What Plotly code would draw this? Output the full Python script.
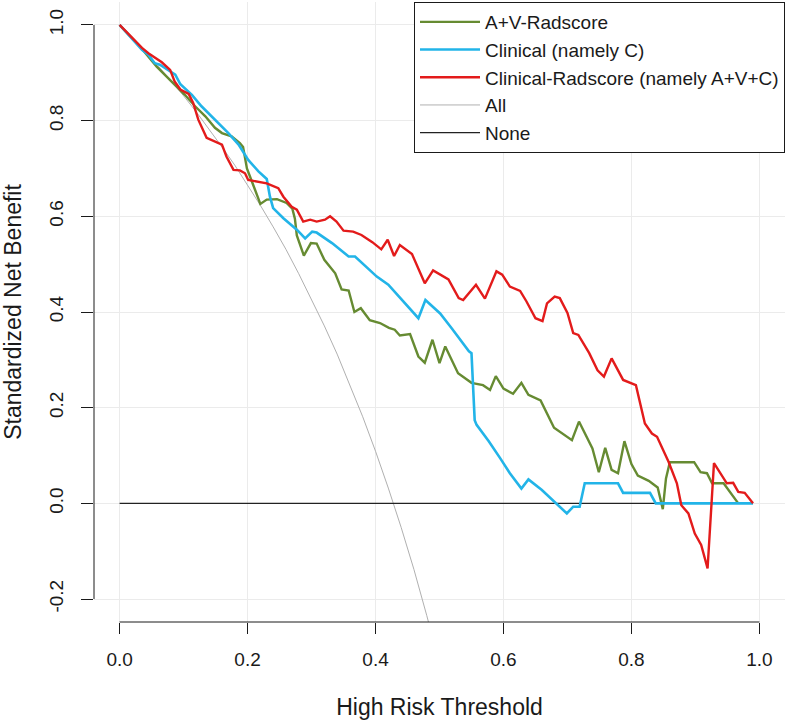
import plotly.graph_objects as go

# decision curve values (threshold, standardized net benefit)
av_thr = [0.00, 0.035, 0.058, 0.071, 0.087, 0.102, 0.118, 0.134, 0.149, 0.160, 0.175, 0.188,
          0.193, 0.199, 0.209, 0.220, 0.230, 0.246, 0.261, 0.270, 0.274, 0.277, 0.288, 0.299,
          0.308, 0.320, 0.337, 0.347, 0.358, 0.367, 0.377, 0.391, 0.407, 0.421, 0.430, 0.438,
          0.454, 0.467, 0.477, 0.489, 0.500, 0.509, 0.529, 0.550, 0.568, 0.579, 0.588, 0.600,
          0.615, 0.628, 0.639, 0.658, 0.679, 0.707, 0.718, 0.739, 0.749, 0.759, 0.769, 0.779,
          0.789, 0.800, 0.810, 0.827, 0.841, 0.849, 0.854, 0.860, 0.898, 0.908, 0.918, 0.926,
          0.944, 0.967]
av_nb = [1.000, 0.950, 0.913, 0.896, 0.875, 0.854, 0.830, 0.809, 0.785, 0.774, 0.767, 0.753,
         0.745, 0.700, 0.665, 0.626, 0.635, 0.636, 0.628, 0.616, 0.595, 0.560, 0.518, 0.544,
         0.543, 0.509, 0.481, 0.447, 0.445, 0.400, 0.408, 0.383, 0.377, 0.367, 0.363, 0.351,
         0.354, 0.307, 0.294, 0.342, 0.293, 0.328, 0.272, 0.252, 0.247, 0.237, 0.266, 0.240,
         0.229, 0.252, 0.227, 0.215, 0.158, 0.132, 0.171, 0.115, 0.065, 0.116, 0.070, 0.063,
         0.130, 0.082, 0.058, 0.047, 0.033, -0.012, 0.052, 0.086, 0.086, 0.065, 0.063, 0.042,
         0.042, 0.000]

clin_thr = [0.00, 0.035, 0.045, 0.055, 0.063, 0.076, 0.087, 0.095, 0.113, 0.128, 0.149, 0.170,
            0.186, 0.201, 0.217, 0.227, 0.230, 0.235, 0.240, 0.256, 0.277, 0.290, 0.301, 0.308,
            0.332, 0.345, 0.358, 0.368, 0.402, 0.420, 0.467, 0.478, 0.501, 0.519, 0.546, 0.550,
            0.555, 0.558, 0.577, 0.595, 0.610, 0.628, 0.639, 0.660, 0.683, 0.699, 0.709, 0.719,
            0.727, 0.779, 0.787, 0.829, 0.838, 0.990]
clin_nb = [1.000, 0.948, 0.938, 0.920, 0.917, 0.906, 0.896, 0.876, 0.854, 0.830, 0.802, 0.774,
           0.750, 0.718, 0.694, 0.683, 0.678, 0.641, 0.617, 0.596, 0.572, 0.554, 0.568, 0.566,
           0.544, 0.530, 0.516, 0.516, 0.474, 0.457, 0.387, 0.425, 0.397, 0.366, 0.318, 0.314,
           0.174, 0.164, 0.130, 0.094, 0.063, 0.031, 0.050, 0.028, 0.000, -0.021, -0.007, -0.007,
           0.042, 0.042, 0.022, 0.022, 0.000, 0.000]

comb_thr = [0.00, 0.035, 0.045, 0.066, 0.079, 0.086, 0.095, 0.108, 0.115, 0.123, 0.136, 0.149,
            0.160, 0.167, 0.178, 0.188, 0.196, 0.201, 0.230, 0.248, 0.256, 0.269, 0.277, 0.287,
            0.298, 0.308, 0.321, 0.329, 0.339, 0.350, 0.365, 0.378, 0.395, 0.409, 0.419, 0.429,
            0.438, 0.457, 0.477, 0.490, 0.514, 0.530, 0.537, 0.557, 0.571, 0.589, 0.598, 0.610,
            0.626, 0.636, 0.650, 0.661, 0.668, 0.680, 0.688, 0.700, 0.709, 0.717, 0.734, 0.747,
            0.757, 0.769, 0.787, 0.807, 0.821, 0.832, 0.840, 0.858, 0.871, 0.878, 0.889, 0.899,
            0.909, 0.919, 0.923, 0.925, 0.929, 0.949, 0.959, 0.967, 0.977, 0.990]
comb_nb = [1.000, 0.952, 0.941, 0.922, 0.906, 0.882, 0.865, 0.856, 0.837, 0.802, 0.764, 0.757,
           0.750, 0.725, 0.697, 0.696, 0.690, 0.676, 0.669, 0.659, 0.641, 0.620, 0.614, 0.589,
           0.593, 0.589, 0.593, 0.600, 0.589, 0.570, 0.568, 0.561, 0.546, 0.531, 0.551, 0.517,
           0.540, 0.521, 0.460, 0.487, 0.468, 0.429, 0.425, 0.457, 0.428, 0.485, 0.478, 0.453,
           0.444, 0.422, 0.387, 0.381, 0.418, 0.432, 0.429, 0.398, 0.356, 0.352, 0.314, 0.278,
           0.265, 0.303, 0.258, 0.247, 0.167, 0.146, 0.139, 0.087, 0.042, -0.004, -0.021, -0.063,
           -0.087, -0.136, -0.056, 0.000, 0.084, 0.042, 0.043, 0.024, 0.022, 0.000]

all_thr = [0.00, 0.02, 0.04, 0.06, 0.08, 0.10, 0.12, 0.14, 0.16, 0.18, 0.20, 0.22, 0.24,
           0.26, 0.28, 0.30, 0.32, 0.34, 0.36, 0.38, 0.40, 0.42, 0.44, 0.46, 0.48, 0.50]
all_nb = [1.000, 0.973, 0.944, 0.915, 0.884, 0.852, 0.818, 0.782, 0.745, 0.707, 0.666, 0.623,
          0.578, 0.531, 0.480, 0.427, 0.371, 0.312, 0.248, 0.181, 0.109, 0.032, -0.050, -0.138,
          -0.234, -0.336]

none_thr = [0.00, 0.99]
none_nb = [0.0, 0.0]

tick_vals = [0.0, 0.2, 0.4, 0.6, 0.8, 1.0]
x_tick_text = ["0.0", "0.2", "0.4", "0.6", "0.8", "1.0"]
y_tick_vals = [-0.2, 0.0, 0.2, 0.4, 0.6, 0.8, 1.0]
y_tick_text = ["-0.2", "0.0", "0.2", "0.4", "0.6", "0.8", "1.0"]

txt = "#1a1a1a"

fig = go.Figure()
fig.add_trace(go.Scatter(x=all_thr, y=all_nb, mode="lines", name="All",
                         line=dict(color="#b0b0b0", width=1), legendrank=4))
fig.add_trace(go.Scatter(x=none_thr, y=none_nb, mode="lines", name="None",
                         line=dict(color="#222222", width=1.3), legendrank=5))
fig.add_trace(go.Scatter(x=av_thr, y=av_nb, mode="lines", name="A+V-Radscore",
                         line=dict(color="#668b32", width=2.4), legendrank=1))
fig.add_trace(go.Scatter(x=clin_thr, y=clin_nb, mode="lines", name="Clinical (namely C)",
                         line=dict(color="#22b4e8", width=2.6), legendrank=2))
fig.add_trace(go.Scatter(x=comb_thr, y=comb_nb, mode="lines", name="Clinical-Radscore (namely A+V+C)",
                         line=dict(color="#e31b1b", width=2.4), legendrank=3))

# R style axis lines that only span the tick range
fig.add_shape(type="line", xref="paper", yref="y", x0=0, x1=0, y0=-0.2, y1=1.0,
              line=dict(color=txt, width=1))
fig.add_shape(type="line", xref="x", yref="paper", x0=0, x1=1, y0=0, y1=0,
              line=dict(color=txt, width=1))

fig.update_layout(
    width=787, height=720,
    margin=dict(l=94, r=2, t=2, b=98),
    paper_bgcolor="white", plot_bgcolor="white",
    font=dict(family="Liberation Sans, Arial, sans-serif", size=19, color=txt),
    legend=dict(x=1, y=1, xanchor="right", yanchor="top", bordercolor=txt, borderwidth=1,
                bgcolor="white", traceorder="normal", itemwidth=60),
    showlegend=True,
)
fig.update_xaxes(range=[-0.04, 1.04], tickvals=tick_vals, ticktext=x_tick_text,
                 ticks="outside", ticklen=11, tickcolor=txt, ticklabelstandoff=9,
                 showline=False, zeroline=False, automargin=False,
                 showgrid=True, gridcolor="#ebebeb", gridwidth=1,
                 title=dict(text="High Risk Threshold", standoff=33))
fig.update_yaxes(range=[-0.248, 1.048], tickvals=y_tick_vals, ticktext=y_tick_text,
                 ticks="outside", ticklen=12, tickcolor=txt, tickangle=-90, ticklabelstandoff=10,
                 showline=False, zeroline=False, automargin=False,
                 showgrid=True, gridcolor="#ebebeb", gridwidth=1,
                 title=dict(text="Standardized Net Benefit", standoff=36))

# drop the default page margin so the figure sits at the window corner
fig.write_html("out.html", config={"displayModeBar": False},
               post_script="document.body.style.margin='0';")
